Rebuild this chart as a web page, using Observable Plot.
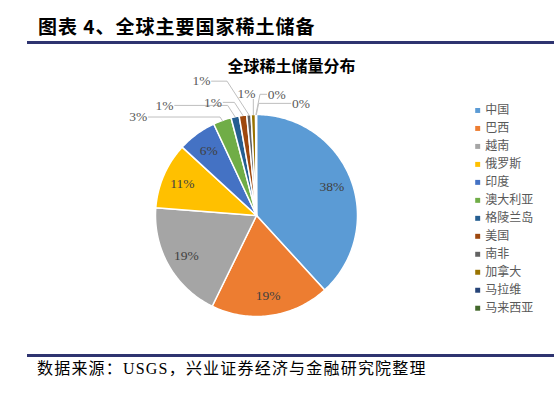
<!DOCTYPE html>
<html><head><meta charset="utf-8">
<script src="https://cdn.jsdelivr.net/npm/d3@7"></script>
<script src="https://cdn.jsdelivr.net/npm/@observablehq/plot@0.6"></script>
<style>
body{margin:0;background:#fff;}
#page{position:relative;width:554px;height:396px;overflow:hidden;background:#fff;}
#title{position:absolute;left:38px;top:14px;font-family:"Noto Sans CJK SC";font-weight:bold;font-size:19px;line-height:24px;letter-spacing:1px;color:#000;white-space:nowrap;}
.rule{position:absolute;left:27px;width:527px;height:3px;background:#2e3470;}
#chart{position:absolute;left:0;top:44px;}
#caption{position:absolute;left:37px;top:359px;font-family:"Liberation Serif","Noto Sans CJK SC";font-size:16px;line-height:20px;letter-spacing:1.2px;color:#000;white-space:nowrap;}
</style></head>
<body><div id="page">
<div id="title"></div>
<div class="rule" style="top:41px"></div>
<div id="chart"></div>
<div class="rule" style="top:354px"></div>
<div id="caption"></div>
</div>
<script>
const pageTitle = "图表 4、全球主要国家稀土储备";
const chartTitle = "全球稀土储量分布";
const caption = "数据来源：USGS，兴业证券经济与金融研究院整理";
const countries = ["中国","巴西","越南","俄罗斯","印度","澳大利亚","格陵兰岛","美国","南非","加拿大","马拉维","马来西亚"];
const shares = [38.2, 19, 19, 10.6, 6.2, 2.9, 1.3, 1.2, 0.7, 0.7, 0.12, 0.03];
const colors = ["#5B9BD5","#ED7D31","#A5A5A5","#FFC000","#4472C4","#70AD47","#255E91","#9E480E","#636363","#997300","#264478","#43682B"];

document.getElementById("title").textContent = pageTitle;
document.getElementById("caption").textContent = caption;

const total = d3.sum(shares);
const arcs = d3.pie().sort(null).value(d => d)(shares);

// slice polygons in unit-circle data space
const slicePts = [];
arcs.forEach((a, i) => {
  const name = countries[i];
  slicePts.push({name, x: 0, y: 0});
  const n = Math.max(2, Math.ceil((a.endAngle - a.startAngle) / (Math.PI / 180)));
  for (let k = 0; k <= n; k++) {
    const t = a.startAngle + (a.endAngle - a.startAngle) * k / n;
    slicePts.push({name, x: Math.sin(t), y: Math.cos(t)});
  }
});

const pct = v => Math.round(v / total * 100) + "%";
const mid = a => (a.startAngle + a.endAngle) / 2;

// inner labels (large slices)
const inner = arcs.filter((a, i) => shares[i] / total >= 0.05).map(a => ({
  x: 0.8 * Math.sin(mid(a)), y: 0.8 * Math.cos(mid(a)), label: pct(a.value)
}));

// outer labels layout (data units) for small slices, in slice order
const outerLabelAt = [[-1.17,0.975],[-0.91,1.09],[-0.43,1.12],[-0.545,1.33],[-0.10,1.21],[0.20,1.20],[0.44,1.11]];
const smallIdx = shares.map((v, i) => i).filter(i => shares[i] / total < 0.05);
const outer = [], leaders = [];
smallIdx.forEach((i, j) => {
  const a = arcs[i];
  const [lx, ly] = outerLabelAt[j];
  outer.push({x: lx, y: ly, label: pct(a.value)});
  const ex = Math.sin(mid(a)), ey = Math.cos(mid(a));
  const pts = [];
  if (Math.abs(ex - lx) < 0.12) {
    pts.push([ex, ly - 0.06], [ex, ey]);
  } else if (lx < ex) {
    const ax = lx + 0.1;
    const dy = Math.abs(ly - ey);
    const elx = Math.max(ax, ex - 0.65 * dy);
    pts.push([ax, ly], [elx, ly], [ex, ey]);
  } else {
    const ax = lx - 0.1;
    const dy = Math.abs(ly - ey);
    const elx = Math.min(ax, ex + 0.2 * dy);
    pts.push([ax, ly], [elx, ly], [ex, ey]);
  }
  pts.forEach(p => leaders.push({id: i, x: p[0], y: p[1]}));
});

// legend
const legend = countries.map((c, i) => ({name: c, x: 2.19, tx: 2.265, y: 1.04 - i * 0.178}));

const chart = Plot.plot({
  width: 554,
  height: 310,
  margin: 0,
  x: {domain: [-1, 1], range: [155, 357], axis: null},
  y: {domain: [-1, 1], range: [272, 70], axis: null},
  color: {domain: countries, range: colors},
  style: {background: "white", overflow: "visible"},
  marks: [
    Plot.line(slicePts, {x: "x", y: "y", z: "name", fill: "name", stroke: "white", strokeWidth: 1.5, curve: "linear-closed"}),
    Plot.line(leaders, {x: "x", y: "y", z: "id", stroke: "#BFBFBF", strokeWidth: 1}),
    Plot.text(inner, {x: "x", y: "y", text: "label", fontSize: 13.5, fill: "#404040", fontFamily: "Liberation Serif"}),
    Plot.text(outer, {x: "x", y: "y", text: "label", fontSize: 13.5, fill: "#595959", fontFamily: "Liberation Serif"}),
    Plot.text([chartTitle], {frameAnchor: "top", dx: 14, dy: 16, fontSize: 16, fontWeight: "bold", fontFamily: "Noto Sans CJK SC", fill: "#000"}),
    Plot.dot(legend, {x: "x", y: "y", symbol: "square", r: 2.8, fill: "name", stroke: null}),
    Plot.text(legend, {x: "tx", y: "y", text: "name", textAnchor: "start", fontSize: 12, fill: "#595959", fontFamily: "Noto Sans CJK SC"})
  ]
});
document.getElementById("chart").appendChild(chart);
</script>
</body></html>
